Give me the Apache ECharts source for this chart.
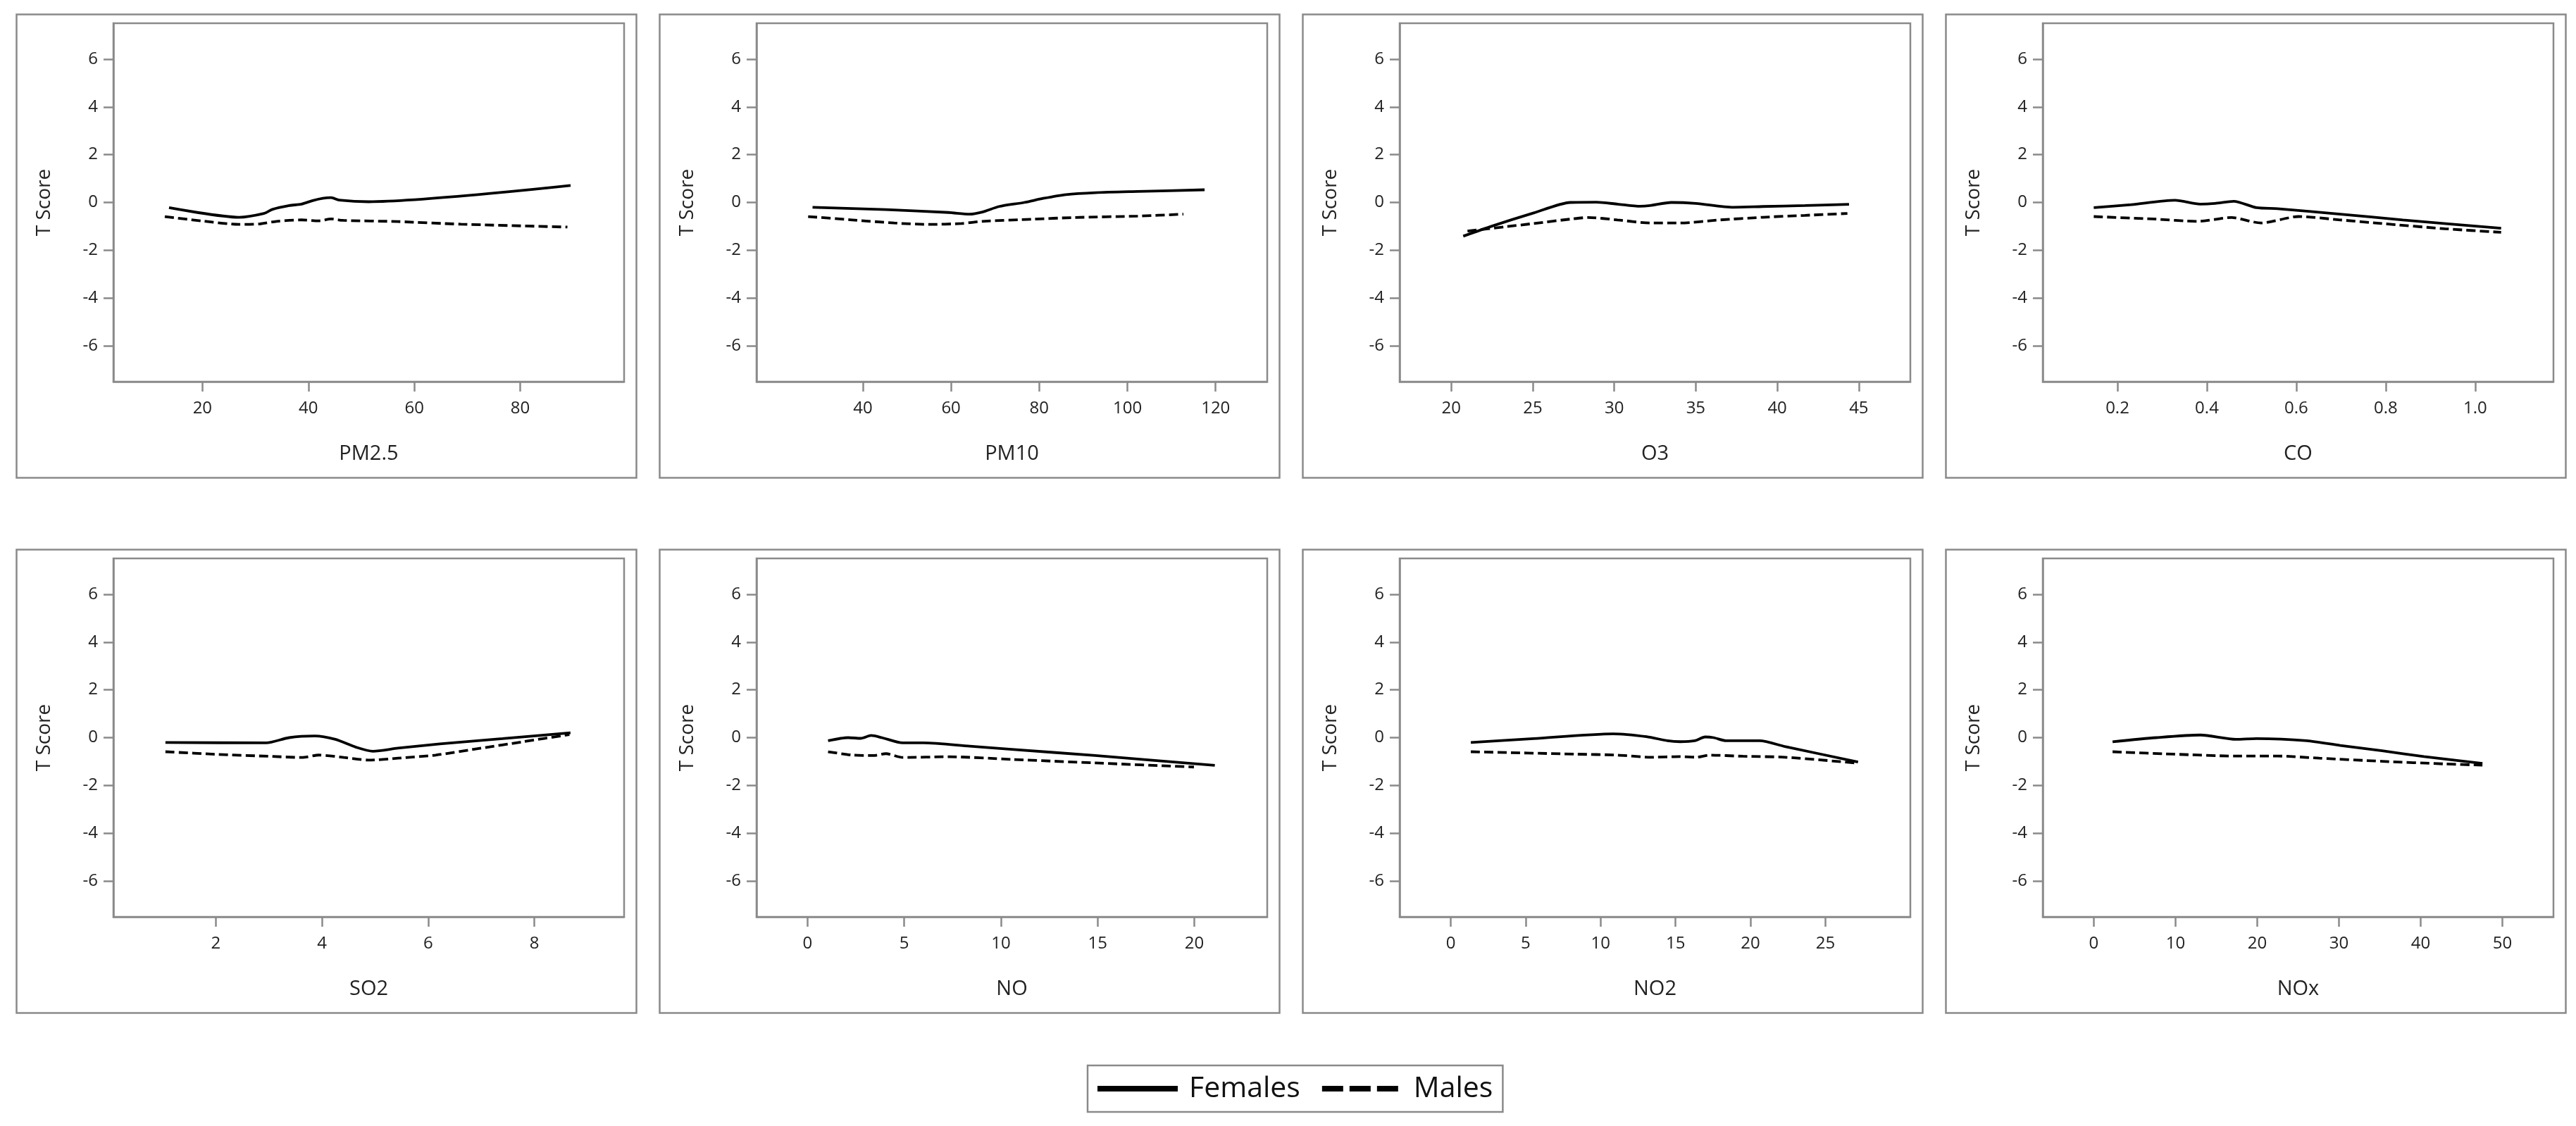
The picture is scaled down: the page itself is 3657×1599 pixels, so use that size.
<!DOCTYPE html>
<html><head><meta charset="utf-8">
<script src="https://cdn.jsdelivr.net/npm/echarts@6/dist/echarts.min.js"></script>
<style>html,body{margin:0;padding:0;background:#fff}#c{width:3657px;height:1599px}</style>
</head><body><div id="c"></div>
<script>
// ---- data ----
const pollutants = ['PM2.5', 'PM10', 'O3', 'CO', 'SO2', 'NO', 'NO2', 'NOx'];
const seriesNames = ['Females', 'Males'];
const yTicks = [-6, -4, -2, 0, 2, 4, 6];

const pm25Ticks = [20, 40, 60, 80];
const pm10Ticks = [40, 60, 80, 100, 120];
const o3Ticks = [20, 25, 30, 35, 40, 45];
const coTicks = [0.2, 0.4, 0.6, 0.8, 1.0];
const so2Ticks = [2, 4, 6, 8];
const noTicks = [0, 5, 10, 15, 20];
const no2Ticks = [0, 5, 10, 15, 20, 25];
const noxTicks = [0, 10, 20, 30, 40, 50];

const xMins = [3.2, 15.9, 16.84, 0.033, 0.07, -2.64, -3.41, -6.24];
const xMaxs = [99.6, 131.7, 48.16, 1.175, 9.69, 23.77, 30.67, 56.24];

const pm25FemX = [13.7, 26.9, 31.6, 33.2, 36.4, 38.7, 40.7, 42.7, 44.3, 45.8, 51.4, 89.5];
const pm25FemY = [-0.22, -0.62, -0.46, -0.29, -0.13, -0.07, 0.07, 0.17, 0.2, 0.1, 0.03, 0.71];
const pm25MalX = [12.9, 19.8, 26.9, 30.8, 34.0, 38.7, 41.9, 44.3, 46.6, 56.9, 68.8, 88.9];
const pm25MalY = [-0.59, -0.77, -0.92, -0.9, -0.79, -0.73, -0.77, -0.69, -0.75, -0.8, -0.91, -1.03];

const pm10FemX = [28.6, 45.2, 59.5, 64.2, 67.1, 70.9, 76.6, 80.9, 86.1, 92.8, 102.3, 117.5];
const pm10FemY = [-0.2, -0.3, -0.42, -0.49, -0.4, -0.17, 0, 0.17, 0.33, 0.41, 0.46, 0.53];
const pm10MalX = [27.6, 37.6, 47.1, 54.8, 62.4, 67.1, 78.5, 88.0, 102.3, 112.7];
const pm10MalY = [-0.59, -0.73, -0.86, -0.92, -0.88, -0.79, -0.7, -0.63, -0.57, -0.49];

const o3FemX = [20.74, 22.5, 25.06, 27.3, 28.9, 30.2, 31.6, 32.2, 33.5, 35.0, 37.3, 39.1, 41.7, 44.4];
const o3FemY = [-1.41, -0.99, -0.44, 0, 0.01, -0.07, -0.16, -0.13, 0, -0.04, -0.2, -0.17, -0.13, -0.08];
const o3MalX = [21.0, 23.3, 25.06, 27.4, 28.4, 30.2, 32.2, 34.0, 36.5, 39.1, 41.7, 44.3];
const o3MalY = [-1.2, -1.02, -0.88, -0.69, -0.63, -0.73, -0.86, -0.86, -0.73, -0.62, -0.54, -0.46];

const coFemX = [0.147, 0.231, 0.329, 0.385, 0.418, 0.46, 0.511, 0.558, 0.698, 0.838, 1.058];
const coFemY = [-0.22, -0.09, 0.09, -0.07, -0.04, 0.05, -0.22, -0.26, -0.49, -0.73, -1.08];
const coMalX = [0.147, 0.278, 0.38, 0.455, 0.521, 0.605, 0.698, 0.791, 0.932, 1.058];
const coMalY = [-0.59, -0.69, -0.79, -0.63, -0.86, -0.59, -0.73, -0.88, -1.1, -1.25];

const so2FemX = [1.05, 2.95, 3.38, 3.86, 4.25, 4.64, 4.96, 5.43, 6.22, 7.4, 8.68];
const so2FemY = [-0.2, -0.22, 0, 0.07, -0.07, -0.4, -0.57, -0.44, -0.26, -0.04, 0.2];
const so2MalX = [1.05, 2.04, 2.99, 3.62, 3.94, 4.41, 4.88, 5.43, 6.14, 7.0, 7.79, 8.66];
const so2MalY = [-0.59, -0.7, -0.78, -0.83, -0.73, -0.83, -0.94, -0.86, -0.73, -0.44, -0.17, 0.13];

const noFemX = [1.06, 2.1, 2.75, 3.29, 3.84, 4.92, 6.0, 8.39, 10.55, 14.88, 21.06];
const noFemY = [-0.13, 0, -0.03, 0.09, 0, -0.22, -0.22, -0.36, -0.49, -0.75, -1.16];
const noMalX = [1.06, 2.32, 3.4, 4.05, 4.92, 7.3, 10.55, 14.88, 19.98];
const noMalY = [-0.59, -0.73, -0.75, -0.67, -0.83, -0.8, -0.91, -1.06, -1.23];

const no2FemX = [1.34, 5.53, 10.84, 13.07, 14.47, 15.31, 16.28, 16.98, 17.54, 18.38, 20.61, 22.3, 27.18];
const no2FemY = [-0.2, -0.04, 0.16, 0.04, -0.13, -0.17, -0.13, 0.03, 0, -0.13, -0.13, -0.37, -1.02];
const no2MalX = [1.34, 8.32, 11.1, 13.35, 15.31, 16.4, 17.26, 19.5, 22.3, 27.04];
const no2MalY = [-0.59, -0.69, -0.73, -0.82, -0.79, -0.82, -0.73, -0.78, -0.82, -1.06];

const noxFemX = [2.3, 7.67, 13.04, 17.4, 19.9, 26.07, 30.16, 35.28, 40.39, 47.55];
const noxFemY = [-0.17, 0, 0.11, -0.07, -0.04, -0.13, -0.33, -0.55, -0.79, -1.08];
const noxMalX = [2.3, 9.71, 17.38, 22.5, 27.6, 35.28, 42.9, 47.55];
const noxMalY = [-0.59, -0.69, -0.77, -0.77, -0.86, -0.99, -1.1, -1.15];

// ---- build ----
const tickSets = [pm25Ticks, pm10Ticks, o3Ticks, coTicks, so2Ticks, noTicks, no2Ticks, noxTicks];
const femXs = [pm25FemX, pm10FemX, o3FemX, coFemX, so2FemX, noFemX, no2FemX, noxFemX];
const femYs = [pm25FemY, pm10FemY, o3FemY, coFemY, so2FemY, noFemY, no2FemY, noxFemY];
const malXs = [pm25MalX, pm10MalX, o3MalX, coMalX, so2MalX, noMalX, no2MalX, noxMalX];
const malYs = [pm25MalY, pm10MalY, o3MalY, coMalY, so2MalY, noMalY, no2MalY, noxMalY];

const zip = (xs, ys) => xs.map((x, i) => [x, ys[i]]);
const FONT = "'Open Sans', 'Liberation Sans', sans-serif";
const GRAY = '#8a8a8a';
const TXT = '#222';
const colLefts = [21, 934, 1847, 2760];
const rowTops = [18, 778];
const OW = 880, OH = 658;

const grids = [], xAxes = [], yAxes = [], series = [], graphics = [];
pollutants.forEach((p, i) => {
  const col = i % 4, row = Math.floor(i / 4);
  const ol = colLefts[col], ot = rowTops[row];
  graphics.push({
    type: 'rect', left: ol, top: ot, silent: true,
    shape: { width: OW, height: OH },
    style: { fill: 'none', stroke: GRAY, lineWidth: 2.5 }
  });
  grids.push({
    left: ol + 140, top: ot + 15, width: 725, height: 509,
    show: true, borderColor: GRAY, borderWidth: 2.5, backgroundColor: '#fff'
  });
  const ticks = tickSets[i];
  const dec = (i === 3) ? 1 : 0;
  xAxes.push({
    type: 'value', gridIndex: i, min: xMins[i], max: xMaxs[i],
    name: p, nameLocation: 'middle', nameGap: 88,
    nameTextStyle: { fontSize: 29, color: TXT, fontFamily: FONT },
    axisLine: { show: true, onZero: false, lineStyle: { color: GRAY, width: 2.5 } },
    axisTick: { show: true, inside: false, length: 14, customValues: ticks, lineStyle: { color: GRAY, width: 2.5 } },
    axisLabel: { show: true, margin: 26, fontSize: 24, color: TXT, fontFamily: FONT,
      customValues: ticks, formatter: v => Number(v).toFixed(dec) },
    splitLine: { show: false }
  });
  yAxes.push({
    type: 'value', gridIndex: i, min: -7.5, max: 7.5,
    name: 'T Score', nameLocation: 'middle', nameGap: 84,
    nameTextStyle: { fontSize: 28, color: TXT, fontFamily: FONT },
    axisLine: { show: true, onZero: false, lineStyle: { color: GRAY, width: 2.5 } },
    axisTick: { show: true, inside: false, length: 14, customValues: yTicks, lineStyle: { color: GRAY, width: 2.5 } },
    axisLabel: { show: true, margin: 22, fontSize: 24, color: TXT, fontFamily: FONT,
      customValues: yTicks, formatter: v => String(v) },
    splitLine: { show: false }
  });
  series.push({
    name: seriesNames[0], type: 'line', xAxisIndex: i, yAxisIndex: i,
    data: zip(femXs[i], femYs[i]), symbol: 'none', smooth: 0.25,
    lineStyle: { color: '#000', width: 3.8, type: 'solid' }, itemStyle: { color: '#000' }, z: 3
  });
  series.push({
    name: seriesNames[1], type: 'line', xAxisIndex: i, yAxisIndex: i,
    data: zip(malXs[i], malYs[i]), symbol: 'none', smooth: 0.25,
    lineStyle: { color: '#000', width: 3.8, type: [13, 6] }, itemStyle: { color: '#000' }, z: 2
  });
});

const chart = echarts.init(document.getElementById('c'), null, { renderer: 'canvas' });
chart.setOption({
  animation: false,
  backgroundColor: '#fff',
  graphic: graphics,
  grid: grids, xAxis: xAxes, yAxis: yAxes, series: series,
  legend: {
    left: 1544, top: 1513,
    data: [
      { name: seriesNames[0], itemStyle: { opacity: 0 }, lineStyle: { width: 8, type: 'solid', color: '#000' } },
      { name: seriesNames[1], itemStyle: { opacity: 0 }, lineStyle: { width: 8, type: [30, 9], color: '#000' } }
    ],
    itemWidth: 114, itemHeight: 20, itemGap: 27,
    padding: [8, 14, 8, 10],
    borderColor: GRAY, borderWidth: 2.5,
    textStyle: { fontSize: 41, color: '#111', fontFamily: FONT, padding: [0, 0, 0, 11], lineHeight: 50 }
  }
});
</script></body></html>
